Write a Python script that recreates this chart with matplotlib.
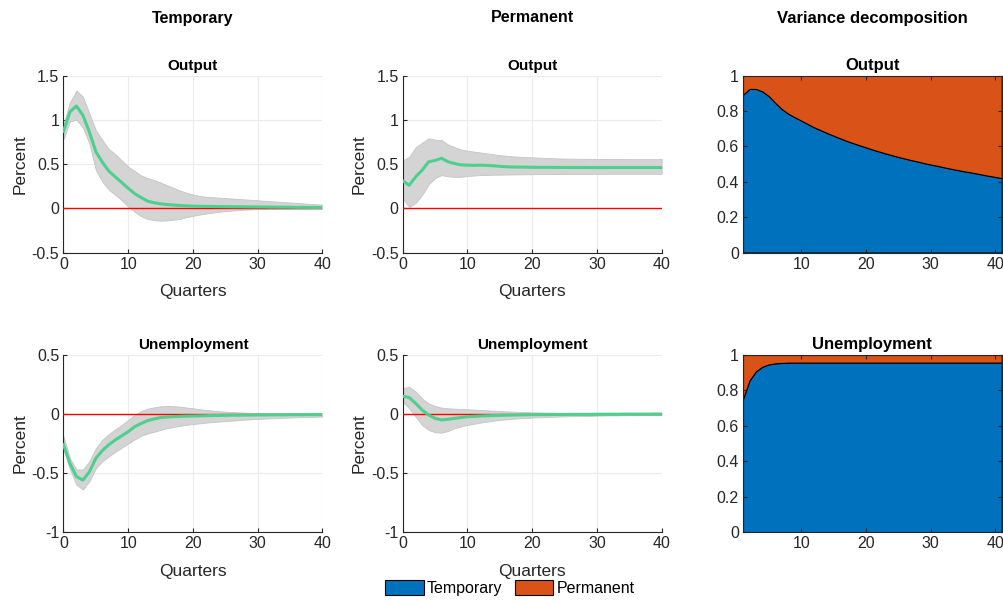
import matplotlib
matplotlib.use("Agg")
import matplotlib.pyplot as plt
import numpy as np
from matplotlib.patches import Patch

plt.rcParams['font.family'] = ['Liberation Sans', 'DejaVu Sans']

quarters = list(range(0, 41))
horizons = list(range(1, 42))

temp_out_mid = [0.87, 1.09, 1.155, 1.05, 0.86, 0.64, 0.52, 0.42, 0.355, 0.29, 0.225, 0.165, 0.12, 0.08,
                0.062, 0.05, 0.042, 0.036, 0.031, 0.027, 0.024, 0.022, 0.021, 0.02, 0.019, 0.018, 0.017,
                0.017, 0.016, 0.015, 0.015, 0.014, 0.013, 0.012, 0.012, 0.011, 0.010, 0.010, 0.009, 0.009, 0.008]
temp_out_hi = [0.95, 1.2, 1.33, 1.26, 1.07, 0.88, 0.77, 0.67, 0.61, 0.54, 0.47, 0.42, 0.37, 0.34, 0.32,
               0.29, 0.26, 0.23, 0.2, 0.175, 0.155, 0.14, 0.13, 0.125, 0.12, 0.115, 0.11, 0.105, 0.1, 0.095,
               0.09, 0.085, 0.08, 0.075, 0.07, 0.065, 0.06, 0.055, 0.05, 0.045, 0.04]
temp_out_lo = [0.78, 0.98, 1.0, 0.91, 0.73, 0.43, 0.3, 0.21, 0.15, 0.09, 0.02, -0.04, -0.09, -0.12, -0.135,
               -0.14, -0.138, -0.13, -0.12, -0.10, -0.085, -0.072, -0.06, -0.05, -0.04, -0.032, -0.026,
               -0.02, -0.016, -0.013, -0.01, -0.009, -0.009, -0.008, -0.008, -0.007, -0.007, -0.006,
               -0.006, -0.005, -0.005]

perm_out_mid = [0.31, 0.26, 0.355, 0.43, 0.525, 0.54, 0.565, 0.525, 0.505, 0.49, 0.487, 0.485, 0.487,
                0.484, 0.48, 0.474, 0.469, 0.466, 0.465, 0.464, 0.463, 0.462, 0.462, 0.462, 0.461, 0.461,
                0.461, 0.461, 0.461, 0.460, 0.460, 0.460, 0.460, 0.460, 0.460, 0.460, 0.460, 0.460, 0.460,
                0.460, 0.460]
perm_out_hi = [0.54, 0.58, 0.69, 0.74, 0.79, 0.775, 0.77, 0.72, 0.69, 0.665, 0.65, 0.64, 0.63, 0.62, 0.61,
               0.6, 0.593, 0.587, 0.582, 0.578, 0.575, 0.572, 0.569, 0.566, 0.563, 0.561, 0.56, 0.559,
               0.558, 0.558, 0.557, 0.557, 0.556, 0.556, 0.556, 0.555, 0.555, 0.555, 0.555, 0.555, 0.555]
perm_out_lo = [0.11, 0.015, 0.06, 0.15, 0.27, 0.34, 0.375, 0.36, 0.355, 0.355, 0.365, 0.37, 0.375, 0.377,
               0.379, 0.38, 0.381, 0.382, 0.383, 0.384, 0.385, 0.386, 0.386, 0.387, 0.387, 0.388, 0.388,
               0.388, 0.389, 0.389, 0.389, 0.389, 0.39, 0.39, 0.39, 0.39, 0.39, 0.39, 0.39, 0.39, 0.39]

temp_un_mid = [-0.26, -0.42, -0.53, -0.56, -0.49, -0.375, -0.31, -0.26, -0.22, -0.185, -0.15, -0.107,
               -0.08, -0.056, -0.042, -0.03, -0.025, -0.022, -0.02, -0.018, -0.017, -0.016, -0.014, -0.013,
               -0.012, -0.011, -0.01, -0.01, -0.009, -0.009, -0.008, -0.008, -0.007, -0.007, -0.007,
               -0.006, -0.006, -0.006, -0.005, -0.005, -0.005]
temp_un_hi = [-0.19, -0.375, -0.47, -0.47, -0.4, -0.29, -0.22, -0.17, -0.13, -0.093, -0.05, -0.008, 0.025,
              0.045, 0.056, 0.065, 0.068, 0.066, 0.062, 0.055, 0.048, 0.041, 0.034, 0.029, 0.024, 0.02,
              0.017, 0.014, 0.012, 0.01, 0.008, 0.007, 0.007, 0.006, 0.006, 0.005, 0.005, 0.004, 0.004,
              0.003, 0.003]
temp_un_lo = [-0.3, -0.47, -0.6, -0.64, -0.57, -0.46, -0.4, -0.36, -0.32, -0.285, -0.25, -0.215, -0.185,
              -0.165, -0.15, -0.135, -0.12, -0.11, -0.1, -0.092, -0.085, -0.079, -0.073, -0.068, -0.064,
              -0.06, -0.056, -0.052, -0.048, -0.045, -0.042, -0.039, -0.037, -0.034, -0.032, -0.03, -0.028,
              -0.026, -0.025, -0.023, -0.022]

perm_un_mid = [0.15, 0.14, 0.09, 0.034, -0.008, -0.037, -0.05, -0.045, -0.037, -0.03, -0.023, -0.02,
               -0.017, -0.015, -0.013, -0.011, -0.01, -0.009, -0.008, -0.007, -0.006, -0.005, -0.005,
               -0.004, -0.004, -0.004, -0.003, -0.003, -0.003, -0.003, -0.002, -0.002, -0.002, -0.002,
               -0.001, -0.001, -0.001, -0.001, -0.001, 0.0, 0.0]
perm_un_hi = [0.22, 0.23, 0.19, 0.13, 0.09, 0.068, 0.054, 0.048, 0.045, 0.042, 0.04, 0.037, 0.034, 0.031,
              0.028, 0.025, 0.022, 0.02, 0.018, 0.016, 0.014, 0.013, 0.012, 0.011, 0.01, 0.009, 0.008,
              0.008, 0.007, 0.007, 0.006, 0.006, 0.005, 0.005, 0.005, 0.004, 0.004, 0.004, 0.003, 0.003,
              0.003]
perm_un_lo = [0.105, 0.048, -0.023, -0.093, -0.135, -0.155, -0.158, -0.144, -0.12, -0.105, -0.093, -0.083,
              -0.073, -0.065, -0.057, -0.05, -0.045, -0.04, -0.036, -0.033, -0.03, -0.028, -0.026, -0.024,
              -0.022, -0.02, -0.019, -0.018, -0.017, -0.016, -0.014, -0.013, -0.012, -0.012, -0.011,
              -0.01, -0.01, -0.009, -0.009, -0.008, -0.008]

vd_out_temp = [0.892, 0.924, 0.924, 0.91, 0.883, 0.845, 0.81, 0.784, 0.764, 0.745, 0.726, 0.707, 0.691,
               0.675, 0.66, 0.645, 0.631, 0.618, 0.606, 0.594, 0.582, 0.571, 0.56, 0.55, 0.54, 0.531, 0.522,
               0.514, 0.505, 0.497, 0.49, 0.482, 0.474, 0.467, 0.46, 0.454, 0.447, 0.44, 0.433, 0.427, 0.42]
vd_un_temp = [0.752, 0.856, 0.908, 0.934, 0.947, 0.953, 0.955, 0.957, 0.957, 0.957, 0.957, 0.957, 0.957,
              0.957, 0.957, 0.957, 0.957, 0.957, 0.957, 0.957, 0.957, 0.957, 0.957, 0.957, 0.957, 0.957,
              0.957, 0.957, 0.957, 0.957, 0.957, 0.957, 0.957, 0.957, 0.957, 0.957, 0.957, 0.957, 0.957,
              0.957, 0.957]

col_titles = ["Temporary", "Permanent", "Variance decomposition"]
row_titles = ["Output", "Unemployment"]
legend_labels = ["Temporary", "Permanent"]

BLUE = '#0072BD'
ORANGE = '#D95319'
GREEN = '#4DD08E'
DARK = '#262626'

W, H = 1004, 601
fig = plt.figure(figsize=(W / 100, H / 100), dpi=100)

def rect(x0, x1, ytop, ybot):
    return [x0 / W, 1 - ybot / H, (x1 - x0) / W, (ybot - ytop) / H]

cols_x = [(63.5, 322.5), (402.7, 661.7), (743, 1001.7)]
rows_y = [(75.5, 252.5), (355, 532)]

def style(ax):
    for s in ax.spines.values():
        s.set_color(DARK)
        s.set_linewidth(0.8)
    ax.tick_params(direction='in', length=3, width=0.8, colors=DARK, labelsize=11.5, pad=3)

irf = [
    [(temp_out_mid, temp_out_lo, temp_out_hi), (perm_out_mid, perm_out_lo, perm_out_hi)],
    [(temp_un_mid, temp_un_lo, temp_un_hi), (perm_un_mid, perm_un_lo, perm_un_hi)],
]
ylims = [(-0.5, 1.5), (-1, 0.5)]
yticks = [[-0.5, 0, 0.5, 1, 1.5], [-1, -0.5, 0, 0.5]]
ytlabels = [["-0.5", "0", "0.5", "1", "1.5"], ["-1", "-0.5", "0", "0.5"]]

for r in range(2):
    for c in range(2):
        ax = fig.add_axes(rect(cols_x[c][0], cols_x[c][1], rows_y[r][0], rows_y[r][1]))
        mid, lo, hi = irf[r][c]
        ax.fill_between(quarters, lo, hi, facecolor='#D4D4D4', edgecolor='#C4C4C4', linewidth=0.6, zorder=2)
        ax.plot(quarters, [0] * len(quarters), color='#FF0000', linewidth=1.0, zorder=3)
        ax.plot(quarters, mid, color=GREEN, linewidth=2.2, zorder=4)
        ax.set_xlim(0, 40)
        ax.set_ylim(*ylims[r])
        ax.set_xticks([0, 10, 20, 30, 40])
        ax.set_yticks(yticks[r])
        ax.set_yticklabels(ytlabels[r])
        ax.grid(True, color='#EBEBEB', linewidth=0.8, zorder=0)
        ax.set_axisbelow(True)
        ax.spines['top'].set_visible(False)
        ax.spines['right'].set_visible(False)
        style(ax)
        ax.set_xlabel("Quarters", fontsize=12.5, color=DARK, labelpad=9)
        ax.set_ylabel("Percent", fontsize=12.5, color=DARK, labelpad=3)
        ax.set_title(row_titles[r], fontsize=11, fontweight='bold', color='black', pad=4)

vds = [vd_out_temp, vd_un_temp]
for r in range(2):
    ax = fig.add_axes(rect(cols_x[2][0], cols_x[2][1], rows_y[r][0], rows_y[r][1]))
    temp = np.array(vds[r])
    perm = 1 - temp
    ax.stackplot(horizons, temp, perm, colors=[BLUE, ORANGE], edgecolor='black', linewidth=0.8)
    ax.set_xlim(1, 41)
    ax.set_ylim(0, 1)
    ax.set_xticks([10, 20, 30, 40])
    ax.set_yticks([0, 0.2, 0.4, 0.6, 0.8, 1])
    ax.set_yticklabels(["0", "0.2", "0.4", "0.6", "0.8", "1"])
    style(ax)
    ax.tick_params(top=True, right=True)
    ax.set_title(row_titles[r], fontsize=12, fontweight='bold', color='black', pad=4)

for c in range(3):
    xc = (cols_x[c][0] + cols_x[c][1]) / 2 / W
    fig.text(xc, 1 - 18 / H, col_titles[c], ha='center', va='center', fontsize=11.5 if c < 2 else 12,
             fontweight='bold', color='black')

handles = [Patch(facecolor=BLUE, edgecolor='black', linewidth=0.8),
           Patch(facecolor=ORANGE, edgecolor='black', linewidth=0.8)]
fig.legend(handles, legend_labels, loc='center', bbox_to_anchor=(510 / W, 1 - 588 / H), ncol=2,
           frameon=False, fontsize=11.5, handlelength=2.4, handleheight=1.1, handletextpad=0.2,
           columnspacing=0.8, borderpad=0)

fig.savefig("out.png", dpi=100)
